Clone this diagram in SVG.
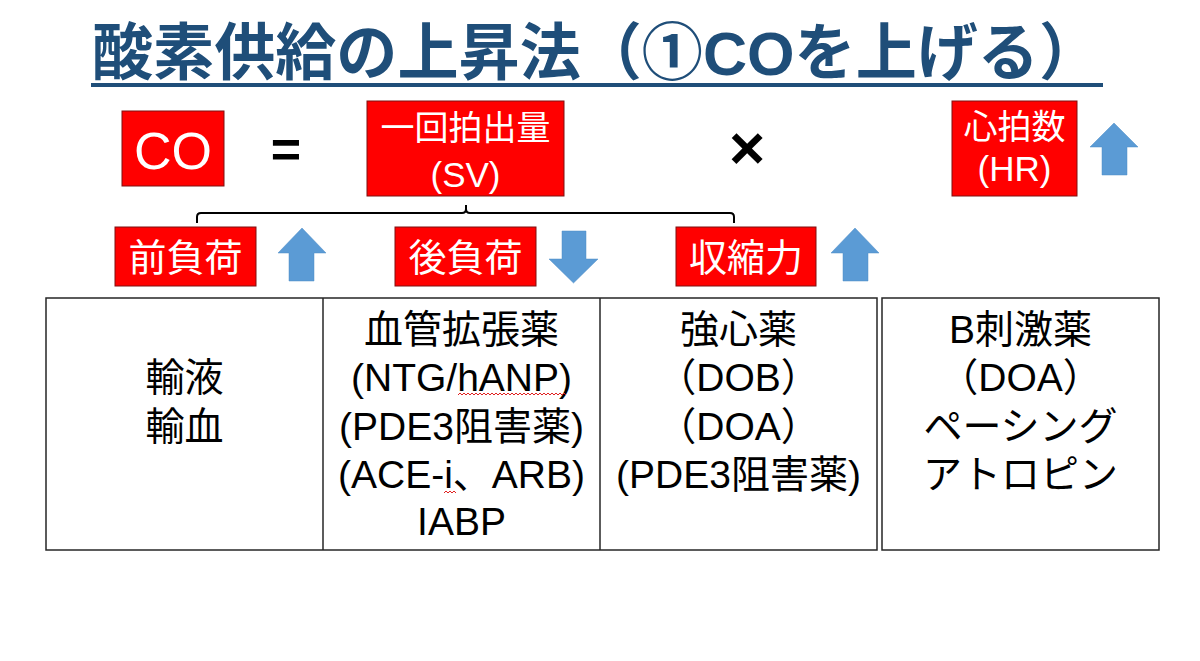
<svg xmlns="http://www.w3.org/2000/svg" width="1200" height="661" viewBox="0 0 1200 661">
<style>
.bg{fill:#ffffff}
.title{font-family:"Liberation Sans","Noto Sans CJK JP",sans-serif;font-weight:bold;font-size:62px;fill:#1F4E79}
.redbox{fill:#FF0000;stroke:#7F1010;stroke-width:1}
.wt{font-family:"Liberation Sans","Noto Sans CJK JP",sans-serif;fill:#ffffff;text-anchor:middle}
.bt{font-family:"Liberation Sans","Noto Sans CJK JP",sans-serif;fill:#000000;text-anchor:middle;font-size:39px}
.op{font-family:"Liberation Sans","Noto Sans CJK JP",sans-serif;fill:#000000;text-anchor:middle;font-weight:bold}
.arrow{fill:#5B9BD5;stroke:#4F8CC6;stroke-width:0.5}
.cell{fill:#ffffff;stroke:#262626;stroke-width:1.5}
.conn{fill:none;stroke:#000000;stroke-width:2}
.squig{fill:none;stroke:#E02020;stroke-width:1}
</style>
<rect class="bg" x="0" y="0" width="1200" height="661"/>

<g id="title">
<text class="title" x="92" y="75" textLength="1008" lengthAdjust="spacingAndGlyphs">酸素供給の上昇法（①COを上げる）</text>
<rect x="91" y="83" width="1012" height="4" fill="#1F4E79"/>
</g>

<g id="co">
<rect class="redbox" x="122" y="111" width="102" height="75"/>
<text class="wt" x="173" y="169" font-size="52">CO</text>
</g>

<g id="equals">
<text class="op" x="286" y="167" font-size="52">=</text>
</g>

<g id="sv">
<rect class="redbox" x="367" y="101" width="197" height="95"/>
<text class="wt" x="465.5" y="140" font-size="34">一回拍出量</text>
<text class="wt" x="465.5" y="187" font-size="35">(SV)</text>
</g>

<g id="times">
<text class="op" x="747" y="169" font-size="62">×</text>
</g>

<g id="hr">
<rect class="redbox" x="952" y="101" width="125" height="95"/>
<text class="wt" x="1014.5" y="139" font-size="34">心拍数</text>
<text class="wt" x="1014.5" y="181" font-size="35">(HR)</text>
<polygon class="arrow" points="1114,123 1138,147 1127,147 1127,175 1102,175 1102,147 1090,147"/>
</g>

<g id="connectors">
<path class="conn" d="M197,223 L197,217 Q197,213 201,213 L462,213 Q466,213 466,209 L466,205 M466,209 Q466,213 470,213 L730,213 Q734,213 734,217 L734,223"/>
</g>

<g id="preload">
<rect class="redbox" x="115" y="227" width="141" height="59"/>
<text class="wt" x="185.5" y="271" font-size="38">前負荷</text>
<polygon class="arrow" points="302,228 326,253 314,253 314,281 289,281 289,253 278,253"/>
</g>

<g id="afterload">
<rect class="redbox" x="395" y="227" width="141" height="59"/>
<text class="wt" x="465.5" y="271" font-size="38">後負荷</text>
<polygon class="arrow" points="562,231 586,231 586,259 598,259 573.5,283 549,259 562,259"/>
</g>

<g id="contractility">
<rect class="redbox" x="676" y="227" width="140" height="59"/>
<text class="wt" x="746" y="271" font-size="38">収縮力</text>
<polygon class="arrow" points="855,228 879,253 868,253 868,281 843,281 843,253 831,253"/>
</g>

<g id="table">
<rect class="cell" x="46" y="298" width="831" height="252"/>
<line class="cell" x1="323" y1="298" x2="323" y2="550"/>
<line class="cell" x1="600" y1="298" x2="600" y2="550"/>
</g>

<g id="col-preload">
<text class="bt" x="184.5" y="391">輸液</text>
<text class="bt" x="184.5" y="440">輸血</text>
</g>

<g id="col-afterload">
<text class="bt" x="461.5" y="343">血管拡張薬</text>
<text class="bt" x="461.5" y="391">(NTG/hANP)</text>
<text class="bt" x="461.5" y="440">(PDE3阻害薬)</text>
<text class="bt" x="461.5" y="488">(ACE-i、ARB)</text>
<text class="bt" x="461.5" y="535">IABP</text>
<path class="squig" d="M458,395 l2,-2 l2,2 l2,-2 l2,2 l2,-2 l2,2 l2,-2 l2,2 l2,-2 l2,2 l2,-2 l2,2 l2,-2 l2,2 l2,-2 l2,2 l2,-2 l2,2 l2,-2 l2,2 l2,-2 l2,2 l2,-2 l2,2 l2,-2 l2,2 l2,-2 l2,2 l2,-2 l2,2 l2,-2 l2,2 l2,-2 l2,2 l2,-2 l2,2 l2,-2 l2,2 l2,-2 l2,2 l2,-2 l2,2 l2,-2 l2,2 l2,-2 l2,2 l2,-2 l2,2 l2,-2 l2,2 l2,-2 l2,2 l2,-2 l2,2"/>
<path class="squig" d="M444,493 l2,-2 l2,2 l2,-2 l2,2 l2,-2 l2,2"/>
</g>

<g id="col-contractility">
<text class="bt" x="738.5" y="343">強心薬</text>
<text class="bt" x="738.5" y="391">（DOB）</text>
<text class="bt" x="738.5" y="440">（DOA）</text>
<text class="bt" x="738.5" y="488">(PDE3阻害薬)</text>
</g>

<g id="col-hr">
<rect class="cell" x="882" y="298" width="277" height="252"/>
<text class="bt" x="1020.5" y="343">B刺激薬</text>
<text class="bt" x="1020.5" y="391">（DOA）</text>
<text class="bt" x="1020.5" y="440">ペーシング</text>
<text class="bt" x="1020.5" y="488">アトロピン</text>
</g>
</svg>
